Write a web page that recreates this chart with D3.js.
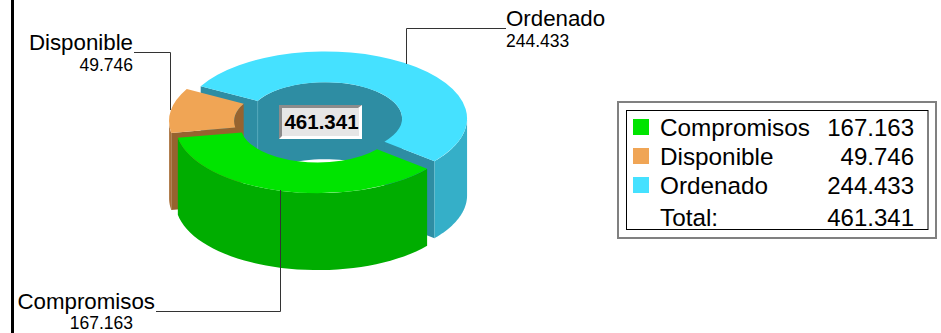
<!DOCTYPE html>
<html>
<head>
    <title></title>
    <style>
        html, body {
            margin: 0;
            background: #fff;
        }
        svg {
            display: block;
        }
        text {
            font-family: "Liberation Sans", Arial, sans-serif;
            fill: #000;
        }
        .leader {
            fill: none;
            stroke: #333;
            stroke-width: 1px;
        }
    </style>
</head>
<body>
<script src="https://cdn.jsdelivr.net/npm/d3@7"></script>
<script>
    var categories = ["Compromisos", "Disponible", "Ordenado"];
    var values = [167163, 49746, 244433];
    var topColors = ["#00e400", "#f0a555", "#45e1ff"];
    var sideColors = ["#00ad00", "#a86e38", "#35afc8"];
    var cutColors = ["#00ad00", "#96632f", "#2e8da3"];
    var totalLabel = "Total:";
    var total = 461341;         // as printed, the rounded parts add up to one more

    var width = 941;
    var height = 333;
    var degrees = Math.PI / 180;

    var cx = 320, cy = 122;     // pie centre before the slices are pulled out
    var outer = 142, inner = 77;
    var k = 0.472;              // tilt
    var depth = 77;
    var explode = 9;

    var fmt = d3.formatLocale({decimal: ",", thousands: ".", grouping: [3], currency: ["", ""]}).format(",d");

    var svg = d3.select("body").append("svg")
            .attr("width", width)
            .attr("height", height);

    // frame on the left
    svg.append("line")
            .attr("x1", 12.5).attr("x2", 12.5)
            .attr("y1", 0).attr("y2", height)
            .attr("stroke", "#000").attr("stroke-width", 3);

    var start = 129.6 * degrees;
    var pie = d3.pie().sort(null).startAngle(start).endAngle(start + 2 * Math.PI);
    var slices = pie(values);
    var arc = d3.arc().innerRadius(inner).outerRadius(outer);
    var line = d3.line();

    function centre(d) {
        var b = (d.startAngle + d.endAngle) / 2;
        return [cx + explode * Math.sin(b), cy - explode * k * Math.cos(b)];
    }
    function pt(c, r, a, dz) {
        return [c[0] + r * Math.sin(a), c[1] - r * k * Math.cos(a) + dz];
    }
    // curved wall between two angles, top edge then bottom edge
    function wall(c, r, a0, a1) {
        var n = 40;
        var as = d3.range(n + 1).map(function(i) {return a0 + (a1 - a0) * i / n;});
        var top = as.map(function(a) {return pt(c, r, a, 0);});
        var bottom = as.slice().reverse().map(function(a) {return pt(c, r, a, depth);});
        return line(top.concat(bottom)) + "Z";
    }
    function cut(c, a) {
        return line([pt(c, outer, a, 0), pt(c, inner, a, 0), pt(c, inner, a, depth), pt(c, outer, a, depth)]) + "Z";
    }
    // parts of a slice that lie inside a list of visible ranges
    function clip(d, ranges) {
        var out = [];
        ranges.forEach(function(r) {
            var a0 = Math.max(d.startAngle, r[0] * degrees);
            var a1 = Math.min(d.endAngle, r[1] * degrees);
            if(a1 > a0) out.push([a0, a1]);
        });
        return out;
    }

    // far slice first: Ordenado, Disponible, Compromisos
    [2, 1, 0].forEach(function(i) {
        var d = slices[i];
        var c = centre(d);
        var g = svg.append("g");

        clip(d, [[270, 450]]).forEach(function(r) {
            g.append("path").attr("d", wall(c, inner, r[0], r[1])).attr("fill", cutColors[i]);
        });
        if(Math.sin(d.startAngle) < 0) {
            g.append("path").attr("d", cut(c, d.startAngle)).attr("fill", cutColors[i]);
        }
        if(Math.sin(d.endAngle) > 0) {
            g.append("path").attr("d", cut(c, d.endAngle)).attr("fill", cutColors[i]);
        }
        clip(d, [[90, 270], [450, 630]]).forEach(function(r) {
            g.append("path").attr("d", wall(c, outer, r[0], r[1])).attr("fill", sideColors[i]);
        });
        if(i == 2) {
            // light edge where the cut meets the hole
            var p0 = pt(c, inner, d.startAngle, 0);
            var p1 = pt(c, inner, d.startAngle, 48);
            g.append("path").attr("d", line([p0, p1])).attr("stroke", "#4fa6ba").attr("fill", "none");
        }
        g.append("path")
                .attr("d", arc(d))
                .attr("transform", "translate(" + c + ")scale(1," + k + ")")
                .attr("fill", topColors[i]);
    });

    // leaders and their labels
    var leaders = [
        [[156, 311.5], [280.5, 311.5], [280.5, 190]],
        [[134, 52.5], [170.5, 52.5], [170.5, 110]],
        [[506, 28.5], [406.5, 28.5], [406.5, 64]]
    ];
    var nameAt = [[155, 309, "end"], [133, 50, "end"], [506, 26, "start"]];
    var valueAt = [[133, 329, "end"], [133, 71, "end"], [506, 47, "start"]];

    categories.forEach(function(name, i) {
        svg.append("path").attr("class", "leader").attr("d", line(leaders[i]));
        svg.append("text")
                .attr("x", nameAt[i][0]).attr("y", nameAt[i][1])
                .attr("text-anchor", nameAt[i][2])
                .attr("font-size", 22.3)
                .text(name);
        svg.append("text")
                .attr("x", valueAt[i][0]).attr("y", valueAt[i][1])
                .attr("text-anchor", valueAt[i][2])
                .attr("font-size", 17.5)
                .text(fmt(values[i]));
    });

    // total box in the hole
    var box = svg.append("g");
    box.append("rect").attr("x", 279).attr("y", 105).attr("width", 83).attr("height", 34).attr("fill", "#fff");
    box.append("path").attr("d", "M279,139V105H362L358,108H282V136Z").attr("fill", "#8c8c8c");
    box.append("rect").attr("x", 282).attr("y", 108).attr("width", 77).attr("height", 28).attr("fill", "#e6e6e6");
    box.append("text")
            .attr("x", 321.5).attr("y", 129)
            .attr("text-anchor", "middle")
            .attr("font-size", 20.5)
            .attr("font-weight", "bold")
            .text(fmt(total));

    // legend
    var legend = svg.append("g");
    legend.append("rect").attr("x", 618).attr("y", 102).attr("width", 318).attr("height", 136)
            .attr("fill", "#fff").attr("stroke", "#808080").attr("stroke-width", 2);
    legend.append("rect").attr("x", 626.5).attr("y", 110.5).attr("width", 301.5).attr("height", 119)
            .attr("fill", "none").attr("stroke", "#000");

    var baselines = [135, 164, 193, 225];
    var rows = categories.concat([totalLabel]);
    var rowValues = values.concat([total]);

    rows.forEach(function(name, i) {
        if(i < categories.length) {
            legend.append("rect")
                    .attr("x", 633).attr("y", baselines[i] - 16)
                    .attr("width", 16).attr("height", 16)
                    .attr("fill", topColors[i]);
        }
        legend.append("text")
                .attr("x", 660).attr("y", baselines[i] + 0.5)
                .attr("font-size", 24.3)
                .text(name);
        legend.append("text")
                .attr("x", 914).attr("y", baselines[i] + 0.5)
                .attr("text-anchor", "end")
                .attr("font-size", 24)
                .text(fmt(rowValues[i]));
    });
</script>
</body>
</html>
